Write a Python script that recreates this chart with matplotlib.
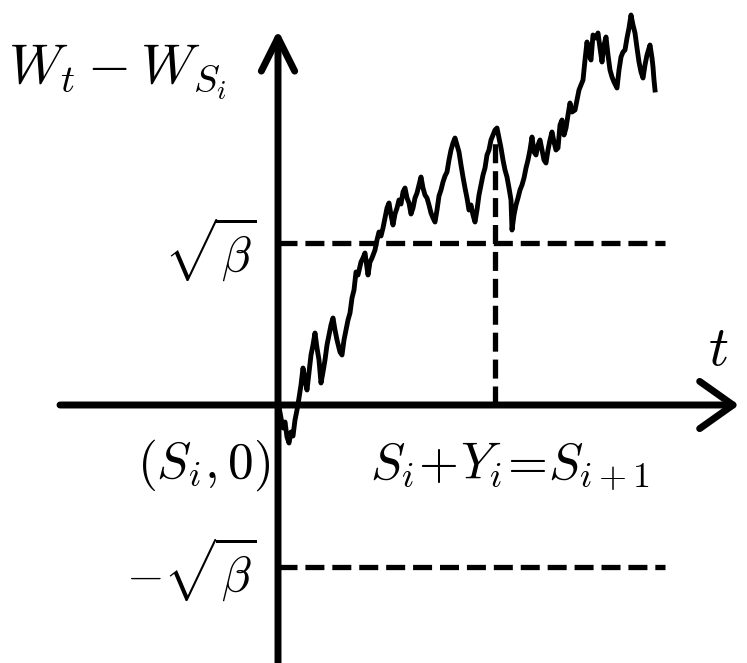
import numpy as np
import matplotlib
matplotlib.use('Agg')
import matplotlib.pyplot as plt

plt.rcParams['mathtext.fontset'] = 'cm'

# path of W_t - W_{S_i}, units chosen so that sqrt(beta) = 162
t = [0, 1, 3, 5, 7, 9, 11, 13, 15, 17, 19, 21, 23, 25, 27, 29, 31, 33, 35, 37,
     39, 41, 43, 45, 47, 49, 51, 53, 55, 57, 59, 62, 64, 66, 68, 70, 72, 74, 76, 78,
     80, 83, 85, 87, 89, 90, 92, 94, 97, 99, 101, 103, 105, 107, 109, 111, 113, 115, 117, 119,
     121, 123, 125, 127, 129, 131, 133, 135, 137, 139, 141, 143, 145, 147, 149, 151, 153, 155, 157, 159,
     161, 163, 165, 167, 169, 171, 173, 175, 177, 179, 181, 183, 185, 187, 189, 191, 193, 195, 197, 199,
     201, 203, 205, 207, 209, 211, 213, 215, 217, 219, 221, 223, 225, 227, 229, 231, 233, 234, 236, 238,
     240, 242, 244, 246, 248, 250, 252, 254, 256, 258, 260, 262, 264, 266, 268, 270, 272, 274, 276, 278,
     280, 282, 284, 286, 288, 290, 292, 294, 297, 299, 301, 303, 305, 307, 309, 311, 313, 315, 318, 320,
     322, 324, 326, 328, 330, 332, 334, 336, 339, 341, 343, 345, 347, 349, 351, 353, 355, 357, 359, 361,
     363, 365, 367, 369, 372, 374, 375, 376, 377]
W = [0, -2, -13, -23, -17, -32, -38, -27, -31, -15, -5, 7, 20, 37, 25, 15, 33, 50, 60, 72,
     57, 45, 22, 33, 45, 60, 70, 80, 87, 75, 65, 53, 50, 65, 75, 85, 92, 107, 115, 133,
     130, 143, 147, 152, 137, 130, 143, 147, 155, 165, 173, 169, 177, 187, 197, 202, 190, 180, 191, 197,
     205, 201, 213, 217, 207, 202, 191, 197, 207, 212, 220, 228, 217, 210, 207, 200, 192, 187, 183, 195,
     209, 215, 223, 229, 233, 245, 255, 262, 267, 260, 253, 240, 228, 217, 207, 195, 200, 190, 183, 195,
     210, 220, 230, 237, 250, 255, 265, 270, 275, 277, 267, 257, 245, 235, 228, 217, 205, 175, 190, 200,
     207, 215, 220, 227, 237, 245, 255, 268, 253, 250, 260, 265, 255, 245, 242, 255, 265, 273, 263, 255,
     257, 280, 285, 270, 277, 290, 302, 293, 295, 305, 315, 320, 325, 345, 363, 350, 345, 370, 367, 372,
     357, 343, 360, 368, 350, 335, 328, 323, 317, 335, 348, 353, 355, 367, 377, 390, 380, 372, 357, 343,
     333, 327, 340, 350, 360, 347, 338, 325, 315]

sqrt_beta = 162
t_hit = 217        # S_{i+1} - S_i
w_hit = 265
t_end = 387        # end of the dashed levels

fig = plt.figure(figsize=(7.47, 6.63), dpi=100)
ax = fig.add_axes([0, 0, 1, 1])
ax.set_xlim(-278, 469)
ax.set_ylim(-258, 405)
ax.axis('off')

def axis_arrow(xy, xytext, hw):
    a = ax.annotate('', xy=xy, xytext=xytext,
                    arrowprops=dict(arrowstyle='->,head_length=2.4,head_width=%s' % hw,
                                    lw=5, color='black', mutation_scale=10,
                                    shrinkA=0, shrinkB=0, capstyle='round',
                                    joinstyle='round'))
    return a

axis_arrow((461, 0), (-218, 0), 1.7)
axis_arrow((0, 375), (0, -262), 1.2)

dash = (0, (3.6, 1.5))
ax.plot([0, t_end], [sqrt_beta, sqrt_beta], color='black', lw=3.8, ls=dash)
ax.plot([0, t_end], [-sqrt_beta, -sqrt_beta], color='black', lw=3.8, ls=dash)
ax.plot([t_hit, t_hit], [0, w_hit], color='black', lw=3.8, ls=dash)

ax.plot(t, W, color='black', lw=3.5, solid_joinstyle='round')

fs = 40
ax.text(-270, 322, r'$W_t - W_{S_i}$', fontsize=fs, ha='left', va='baseline')
ax.text(440, 40, r'$t$', fontsize=fs, ha='center', va='baseline')
ax.text(-21, 155, r'$\sqrt{\beta}$', fontsize=35, ha='right', va='center')
ax.text(-21, -165, r'$-\sqrt{\beta}$', fontsize=35, ha='right', va='center')
ax.text(-8, -60, r'$(S_i,0)$', fontsize=37, ha='right', va='center')
ax.text(232, -62, r'$S_i\!+\!Y_i\!=\!S_{i+1}$', fontsize=37, ha='center', va='center')

fig.savefig('out.png', dpi=100)
